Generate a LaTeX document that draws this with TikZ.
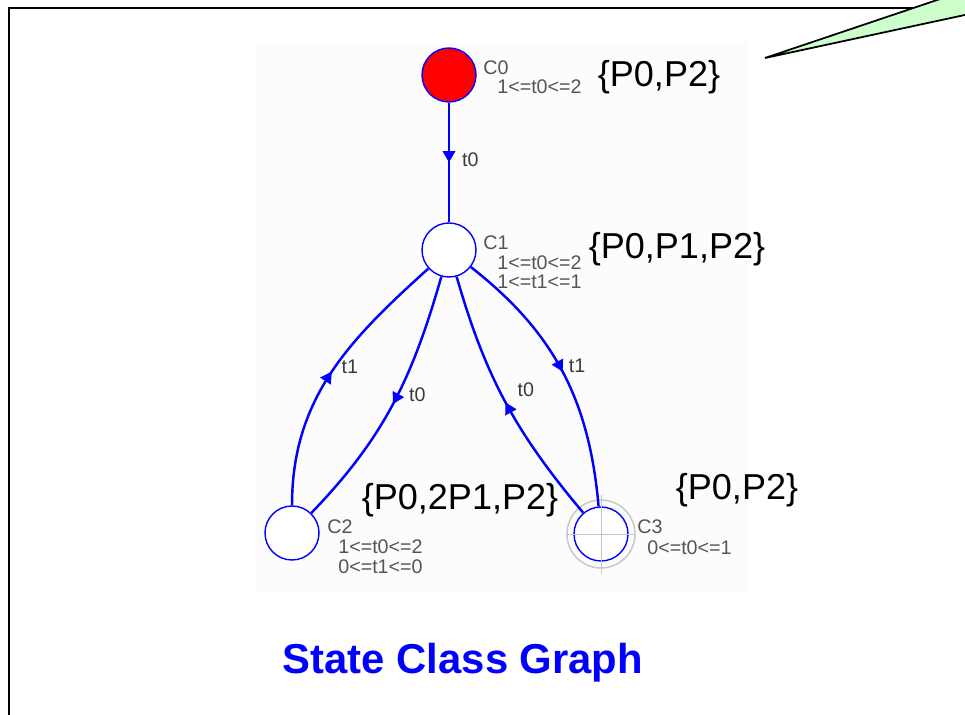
\documentclass[tikz,border=0pt]{standalone}
\usepackage{fontspec}
\setmainfont{Liberation Sans}
\usetikzlibrary{arrows.meta, decorations.markings}
\definecolor{SCBlue}{RGB}{0,0,255}
\definecolor{SCRed}{RGB}{255,0,0}
\definecolor{SCGray}{RGB}{85,85,85}
\definecolor{SCGreen}{RGB}{204,255,204}

\begin{document}
\begin{tikzpicture}[x=0.02cm, y=0.02cm,
      state/.style={circle, draw=SCBlue, line width=0.8pt, minimum size=1.08cm,
                    inner sep=0pt},
      cnd/.style={font=\fontsize{11.2}{13}\selectfont, text=SCGray, anchor=west,
                  inner sep=0pt},
      cls/.style={font=\fontsize{20.5}{24}\selectfont, inner sep=0pt},
      tlbl/.style={font=\fontsize{11.2}{13}\selectfont, text=SCGray!70!black,
                   inner sep=0pt, anchor=west, pos=0.5},
      trans/.style={draw=SCBlue, line width=1.4pt, postaction={decorate},
                    decoration={markings, mark=at position 0.5 with
                    {\arrow{Triangle[length=6.5pt, width=7pt]}}}}
    ]
    \useasboundingbox (0,0) rectangle (965,-715);

    % Slide frame and screenshot area
    \draw[line width=1.3pt] (9,-720) -- (9,-8) -- (970,-8);
    \fill[gray!2] (255,-43) rectangle (748,-592);

    % Callout pointer
    \fill[SCGreen] (765,-58) -- (952,5) -- (975,5) -- (975,-12.8) -- cycle;
    \draw[line width=1pt] (952,5) -- (765,-58) -- (975,-12.8);

    % States
    \node[state, fill=SCRed] (c0) at (449,-75) {};
    \node[state, fill=white] (c1) at (449,-250) {};
    \node[state, fill=white] (c2) at (292,-533) {};
    \draw[gray!45, line width=0.8pt] (601,-534) circle[radius=0.68cm];
    \node[state, fill=white] (c3) at (601,-534) {};
    \draw[gray!45, line width=0.5pt] ([xshift=-0.7cm]c3.center) -- ([xshift=0.7cm]c3.center);
    \draw[gray!45, line width=0.5pt] ([yshift=0.78cm]c3.center) -- ([yshift=-0.8cm]c3.center);

    % Transitions
    \draw[trans] (c0) -- (c1) node[tlbl, xshift=0.24cm, yshift=0.06cm] {t0};
    \draw[trans] (c2) to[out=90, in=222]
          node[tlbl, xshift=0.2cm, yshift=0.14cm] {t1} (c1);
    \draw[trans] (c1) to[out=254, in=46]
          node[tlbl, xshift=0.3cm, yshift=0.2cm] {t0} (c2);
    \draw[trans] (c3) to[out=130, in=286]
          node[tlbl, xshift=0.22cm, yshift=0.26cm] {t0} (c1);
    \draw[trans] (c1) to[out=-38, in=95]
          node[tlbl, xshift=0.1cm, yshift=0.12cm] {t1} (c3);

    % Firing domains
    \node[cnd] at (483,-68) {C0};
    \node[cnd] at (497,-87) {1<=t0<=2};
    \node[cnd] at (483,-243) {C1};
    \node[cnd] at (497,-263) {1<=t0<=2};
    \node[cnd] at (497,-282) {1<=t1<=1};
    \node[cnd] at (327,-527) {C2};
    \node[cnd] at (338,-547) {1<=t0<=2};
    \node[cnd] at (338,-567) {0<=t1<=0};
    \node[cnd] at (637,-527) {C3};
    \node[cnd] at (647,-548) {0<=t0<=1};

    % Markings
    \node[cls] at (659,-77) {\{P0,P2\}};
    \node[cls] at (677,-249) {\{P0,P1,P2\}};
    \node[cls] at (460,-500) {\{P0,2P1,P2\}};
    \node[cls] at (737,-490) {\{P0,P2\}};

    % Title
    \node[font=\fontsize{23.8}{28}\selectfont\bfseries, text=SCBlue] (title)
          at (463,-663) {State Class Graph};
  \end{tikzpicture}
\end{document}
